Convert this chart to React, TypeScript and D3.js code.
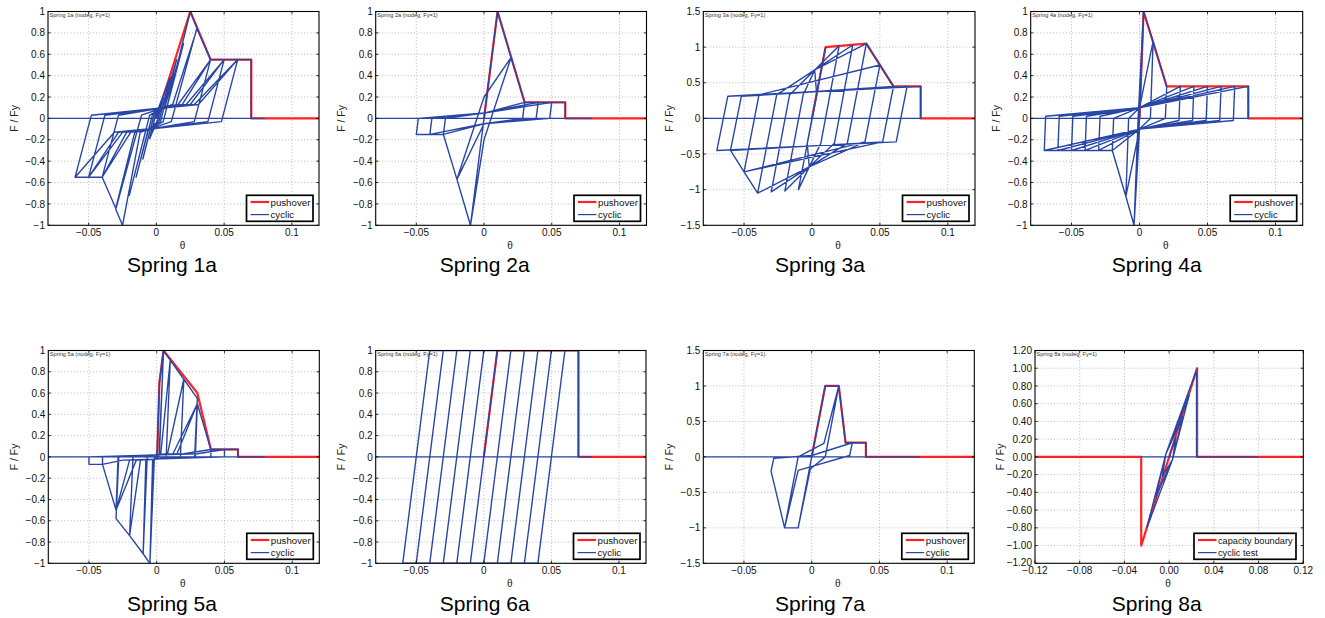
import React from "react";
import * as d3 from "d3";

type Pt = [number, number];

// ---------------- data ----------------
const springNames = ["1a", "2a", "3a", "4a", "5a", "6a", "7a", "8a"];
const legendStd = ["pushover", "cyclic"];
const legend8 = ["capacity boundary", "cyclic test"];

const xTicksStd = [-0.05, 0, 0.05, 0.1];
const yTicksUnit = [-1, -0.8, -0.6, -0.4, -0.2, 0, 0.2, 0.4, 0.6, 0.8, 1];
const yTicks15 = [-1.5, -1, -0.5, 0, 0.5, 1, 1.5];
const xTicks8 = [-0.12, -0.08, -0.04, 0, 0.04, 0.08, 0.12];
const yTicks8 = [-1.2, -1, -0.8, -0.6, -0.4, -0.2, 0, 0.2, 0.4, 0.6, 0.8, 1, 1.2];

const push1a: Pt[] = [[0, 0], [0.025, 1], [0.04, 0.55], [0.07, 0.55], [0.07, 0], [0.12, 0]];
const cyc1a: Pt[] = [
  [0, 0],
  [0.005, 0.19], [0.001, -0.01], [-0.005, -0.19], [-0.001, 0.01],
  [0.01, 0.38], [0.002, -0.02], [-0.004, -0.08], [-0.01, -0.38], [-0.002, 0.02], [0.004, 0.08],
  [0.015, 0.55], [0.003, -0.03], [-0.006, -0.1], [-0.015, -0.55], [-0.003, 0.03], [0.006, 0.1],
  [0.02, 0.7], [0.005, -0.03], [-0.008, -0.12], [-0.02, -0.72], [-0.005, 0.03], [0.008, 0.12],
  [0.025, 1.0], [0.03, 0.85], [0.011, -0.03], [-0.012, -0.13], [-0.025, -1.0], [-0.03, -0.85], [-0.011, 0.03], [0.012, 0.13],
  [0.03, 0.84], [0.04, 0.55], [0.028, -0.03], [-0.016, -0.13], [-0.03, -0.84], [-0.04, -0.55], [-0.028, 0.03], [0.016, 0.13],
  [0.04, 0.55], [0.028, -0.03], [-0.019, -0.13], [-0.04, -0.55], [-0.028, 0.03], [0.019, 0.13],
  [0.04, 0.55], [0.05, 0.55], [0.038, -0.03], [-0.022, -0.13], [-0.04, -0.55], [-0.05, -0.55], [-0.038, 0.03], [0.022, 0.13],
  [0.05, 0.55], [0.038, -0.03], [-0.025, -0.13], [-0.05, -0.55], [-0.038, 0.03], [0.025, 0.13],
  [0.05, 0.55], [0.06, 0.55], [0.048, -0.03], [-0.028, -0.13], [-0.05, -0.55], [-0.06, -0.55], [-0.048, 0.03], [0.028, 0.13],
  [0.06, 0.55], [0.048, -0.03], [-0.031, -0.13], [-0.06, -0.55], [-0.048, 0.03], [0.031, 0.13],
  [0.06, 0.55], [0.07, 0.55], [0.07, 0], [-0.08, 0], [0.08, 0],
];

const push2a: Pt[] = [[0, 0], [0.01, 1.0], [0.03, 0.15], [0.06, 0.15], [0.06, 0], [0.12, 0]];
const cyc2a: Pt[] = [
  [0, 0], [0.005, 0.5], [0, 0], [-0.005, -0.5], [0, 0],
  [0.01, 1.0], [0, 0], [-0.01, -1.0], [0, 0],
  [0.01, 1.0], [0.02, 0.57], [0, -0.2], [-0.01, -1.0], [-0.02, -0.57], [0, 0.2],
  [0.02, 0.57], [0.03, 0.15], [0.0285, 0], [0, -0.05], [-0.02, -0.57], [-0.03, -0.15], [-0.0285, 0], [0, 0.05],
  [0.03, 0.15], [0.04, 0.15], [0.0385, 0], [0, -0.05], [-0.03, -0.15], [-0.04, -0.15], [-0.0385, 0], [0, 0.05],
  [0.04, 0.15], [0.05, 0.15], [0.0485, 0], [0, -0.05], [-0.04, -0.15], [-0.05, -0.15], [-0.0485, 0], [0, 0.05],
  [0.05, 0.15], [0.06, 0.15], [0.06, 0], [-0.08, 0], [0.08, 0],
];

const push3a: Pt[] = [[0, 0], [0.01, 1.0], [0.04, 1.05], [0.06, 0.45], [0.08, 0.45], [0.08, 0], [0.12, 0]];
const cyc3a: Pt[] = [
  [0, 0],
  [0.01, 1.0], [-0.0035, -0.35], [-0.002, -0.68], [-0.01, -1.0], [0.0035, 0.33], [0.002, 0.68],
  [0.02, 1.02], [0.0065, -0.35], [-0.002, -0.68], [-0.02, -1.02], [-0.0065, 0.33], [0.002, 0.68],
  [0.03, 1.03], [0.0165, -0.35], [-0.002, -0.68], [-0.03, -1.03], [-0.0165, 0.33], [0.002, 0.68],
  [0.04, 1.05], [0.026, -0.35], [-0.002, -0.68], [-0.04, -1.05], [-0.026, 0.33], [0.002, 0.68],
  [0.04, 1.05], [0.05, 0.75], [0.039, -0.33], [-0.002, -0.68], [-0.04, -1.05], [-0.05, -0.75], [-0.039, 0.33],
  [0.05, 0.75], [0.039, -0.33], [-0.05, -0.75], [-0.039, 0.33],
  [0.05, 0.75], [0.06, 0.45], [0.052, -0.33], [-0.05, -0.75], [-0.06, -0.45], [-0.052, 0.31],
  [0.06, 0.45], [0.052, -0.33], [-0.06, -0.45], [-0.052, 0.31],
  [0.07, 0.45], [0.062, -0.33], [-0.07, -0.45], [-0.062, 0.31],
  [0.07, 0.45], [0.062, -0.33], [-0.07, -0.45], [-0.062, 0.31],
  [0.08, 0.45], [0.08, 0], [-0.08, 0], [0.08, 0],
];

const push4a: Pt[] = [[0, 0], [0.003, 1.0], [0.02, 0.3], [0.08, 0.3], [0.08, 0], [0.12, 0]];
const cyc4a: Pt[] = [
  [0, 0],
  [0.003, 1.0], [0, 0], [-0.004, -1.0], [-0.001, 0],
  [0.003, 1.0], [0.01, 0.72], [0.008, 0], [0, -0.1], [-0.004, -1.0], [-0.01, -0.73], [-0.008, 0], [0, 0.1],
  [0.01, 0.72], [0.02, 0.3], [0.019, 0], [0, -0.1], [-0.01, -0.73], [-0.02, -0.3], [-0.019, 0], [0, 0.1],
  [0.03, 0.3], [0.029, -0.02], [0, -0.1], [-0.02, -0.3], [-0.03, -0.3], [-0.029, 0.02], [0, 0.1],
  [0.03, 0.3], [0.029, -0.02], [0, -0.1], [-0.03, -0.3], [-0.029, 0.02], [0, 0.1],
  [0.04, 0.3], [0.039, -0.02], [0, -0.1], [-0.03, -0.3], [-0.04, -0.3], [-0.039, 0.02], [0, 0.1],
  [0.04, 0.3], [0.039, -0.02], [0, -0.1], [-0.04, -0.3], [-0.039, 0.02], [0, 0.1],
  [0.05, 0.3], [0.049, -0.02], [0, -0.1], [-0.04, -0.3], [-0.05, -0.3], [-0.049, 0.02], [0, 0.1],
  [0.05, 0.3], [0.049, -0.02], [0, -0.1], [-0.05, -0.3], [-0.049, 0.02], [0, 0.1],
  [0.06, 0.3], [0.059, -0.02], [0, -0.1], [-0.05, -0.3], [-0.06, -0.3], [-0.059, 0.02], [0, 0.1],
  [0.06, 0.3], [0.059, -0.02], [0, -0.1], [-0.06, -0.3], [-0.059, 0.02], [0, 0.1],
  [0.07, 0.3], [0.069, -0.02], [0, -0.1], [-0.06, -0.3], [-0.07, -0.3], [-0.069, 0.02], [0, 0.1],
  [0.07, 0.3], [0.069, -0.02], [0, -0.1], [-0.07, -0.3], [-0.069, 0.02], [0, 0.1],
  [0.08, 0.3], [0.08, 0], [-0.08, 0], [0.08, 0],
];

const push5a: Pt[] = [[0, 0], [0.0005, 0.08], [0.002, 0.7], [0.005, 1.0], [0.03, 0.6], [0.04, 0.07], [0.06, 0.07], [0.06, 0], [0.12, 0]];
const cyc5a: Pt[] = [
  [0, 0],
  [0.0005, 0.08], [0.002, 0.7], [0.005, 1.0], [0.0017, 0], [-0.002, -0.02], [-0.005, -1.0], [-0.0017, 0], [0.002, 0.02],
  [0.005, 1.0], [0.01, 0.91], [0.007, 0], [-0.003, -0.03], [-0.005, -1.0], [-0.01, -0.91], [-0.007, 0], [0.003, 0.03],
  [0.01, 0.91], [0.02, 0.73], [0.0175, 0], [-0.008, -0.03], [-0.01, -0.91], [-0.02, -0.74], [-0.0175, 0], [0.008, 0.03],
  [0.02, 0.73], [0.03, 0.55], [0.028, 0], [-0.012, -0.03], [-0.02, -0.74], [-0.03, -0.58], [-0.028, 0], [0.012, 0.03],
  [0.03, 0.5], [0.0285, 0], [-0.015, -0.03], [-0.03, -0.5], [-0.0285, 0], [0.015, 0.03],
  [0.03, 0.5], [0.04, 0.07], [0.04, 0], [-0.02, -0.03], [-0.03, -0.5], [-0.04, -0.07], [-0.04, 0], [0.02, 0.03],
  [0.04, 0.07], [0.05, 0.07], [0.05, 0], [-0.025, -0.03], [-0.04, -0.07], [-0.05, -0.07], [-0.05, 0], [0.03, 0.03],
  [0.05, 0.07], [0.06, 0.07], [0.06, 0], [-0.08, 0], [0.08, 0],
];

const push6a: Pt[] = [[0, 0], [0.01, 1.0], [0.07, 1.0], [0.07, 0], [0.12, 0]];
const cyc6a: Pt[] = [
  [0, 0], [0.01, 1], [-0.01, -1],
  [0.01, 1], [0.02, 1], [0, -1], [-0.02, -1], [0, 1],
  [0.03, 1], [0.01, -1], [-0.03, -1], [-0.01, 1],
  [0.04, 1], [0.02, -1], [-0.04, -1], [-0.02, 1],
  [0.05, 1], [0.03, -1], [-0.05, -1], [-0.03, 1],
  [0.06, 1], [0.04, -1], [-0.06, -1], [-0.04, 1],
  [0.07, 1], [0.07, 0], [-0.08, 0], [0.08, 0],
];

const push7a: Pt[] = [[0, 0], [0.01, 1], [0.02, 1], [0.025, 0.2], [0.04, 0.2], [0.04, 0], [0.12, 0]];
const cyc7a: Pt[] = [
  [0, 0], [0.005, 0.5], [0, 0], [-0.005, -0.5], [0, 0],
  [0.01, 1], [0, 0], [-0.01, -1], [0, 0],
  [0.01, 1], [0.02, 1], [0.01, 0], [-0.001, -0.17], [-0.01, -1], [-0.02, -1], [-0.01, 0], [0.009, 0.19],
  [0.02, 1], [0.025, 0.2], [0.03, 0.2], [0.028, 0.02], [-0.01, -0.19], [-0.02, -1], [-0.03, -0.2], [-0.028, -0.02], [0, 0.02],
  [0.03, 0.2], [0.04, 0.2], [0.04, 0], [-0.08, 0], [0.08, 0],
];

const push8a: Pt[] = [[-0.12, 0], [-0.025, 0], [-0.025, -1], [0.025, 1], [0.025, 0], [0.12, 0]];
const cyc8a: Pt[] = [
  [0, 0], [0.006, 0.22], [0.003, -0.03], [-0.006, -0.22], [-0.003, 0.03],
  [0.012, 0.45], [0.003, -0.03], [-0.012, -0.45], [-0.003, 0.03],
  [0.018, 0.7], [0.003, -0.03], [-0.02, -0.8], [-0.003, 0.03],
  [0.0245, 0.98], [0.0245, 0], [-0.025, 0], [0.08, 0],
];

const pushovers = [push1a, push2a, push3a, push4a, push5a, push6a, push7a, push8a];
const cyclics = [cyc1a, cyc2a, cyc3a, cyc4a, cyc5a, cyc6a, cyc7a, cyc8a];

// ---------------- layout ----------------
const FONT = "'Liberation Sans', Arial, Helvetica, sans-serif";
const RED = "#ff2222";
const BLUE = "#2846a6";

const layouts = [
  { l: 48, r: 319, t: 11.5, b: 225.3, cap: 172, capY: 272 },
  { l: 375.7, r: 646.5, t: 11.5, b: 225.3, cap: 484.7, capY: 272 },
  { l: 703.3, r: 975, t: 11.5, b: 225.3, cap: 820, capY: 272 },
  { l: 1030.7, r: 1302.7, t: 11.5, b: 225.3, cap: 1156.7, capY: 272 },
  { l: 48.3, r: 319.3, t: 350.5, b: 563.3, cap: 172, capY: 611 },
  { l: 375.7, r: 646, t: 350.5, b: 563.3, cap: 484.7, capY: 611 },
  { l: 703.3, r: 974.3, t: 350.5, b: 563.3, cap: 820, capY: 611 },
  { l: 1035, r: 1303.3, t: 350.5, b: 563.3, cap: 1156.7, capY: 611 },
];

function fmtPlain(v: number) {
  const s = String(+Math.abs(v).toFixed(4));
  return (v < 0 ? "\u2212" : "") + s;
}
function fmt2(v: number) {
  return (v < 0 ? "\u2212" : "") + Math.abs(v).toFixed(2);
}

function Panel({ i }: { i: number }) {
  const L = layouts[i];
  const is8 = i === 7;
  const tall = i === 2 || i === 6;
  const xDomain = is8 ? [-0.12, 0.12] : [-0.08, 0.12];
  const yDomain = is8 ? [-1.2, 1.2] : tall ? [-1.5, 1.5] : [-1, 1];
  const xTicks = is8 ? xTicks8 : xTicksStd;
  const yTicks = is8 ? yTicks8 : tall ? yTicks15 : yTicksUnit;
  const fmt = is8 ? fmt2 : fmtPlain;
  const legend = is8 ? legend8 : legendStd;

  const x = d3.scaleLinear().domain(xDomain).range([L.l, L.r]);
  const y = d3.scaleLinear().domain(yDomain).range([L.b, L.t]);
  const line = d3.line<Pt>().x((d) => x(d[0])).y((d) => y(d[1]));
  const clipId = `clip-${i}`;
  const tickLen = 2.7;

  const legW = is8 ? 102 : 66.5;
  const legH = 26;
  const bx = L.r - (is8 ? 7.3 : 6) - legW;
  const by = L.b - 4 - legH;

  const eps = 1e-9;
  const gridX = xTicks.filter((v) => v > xDomain[0] + eps && v < xDomain[1] - eps);
  const gridY = yTicks.filter((v) => v > yDomain[0] + eps && v < yDomain[1] - eps);

  return (
    <g>
      <defs>
        <clipPath id={clipId}>
          <rect x={L.l} y={L.t} width={L.r - L.l} height={L.b - L.t} />
        </clipPath>
      </defs>
      <rect x={L.l} y={L.t} width={L.r - L.l} height={L.b - L.t} fill="#fff" />
      {gridX.map((v) => (
        <line key={"gx" + v} x1={x(v)} x2={x(v)} y1={L.t} y2={L.b} stroke="#9a9a9a" strokeWidth={0.7} strokeDasharray="1 2.2" />
      ))}
      {gridY.map((v) => (
        <line key={"gy" + v} x1={L.l} x2={L.r} y1={y(v)} y2={y(v)} stroke="#9a9a9a" strokeWidth={0.7} strokeDasharray="1 2.2" />
      ))}
      <g clipPath={`url(#${clipId})`}>
        <path d={line(pushovers[i]) || ""} fill="none" stroke={RED} strokeWidth={2.2} strokeLinejoin="round" />
        <path d={line(cyclics[i]) || ""} fill="none" stroke={BLUE} strokeWidth={1.4} strokeLinejoin="round" />
      </g>
      {xTicks.map((v) => (
        <g key={"xt" + v}>
          <line x1={x(v)} x2={x(v)} y1={L.b} y2={L.b - tickLen} stroke="#000" strokeWidth={0.8} />
          <line x1={x(v)} x2={x(v)} y1={L.t} y2={L.t + tickLen} stroke="#000" strokeWidth={0.8} />
          <text x={x(v)} y={L.b + 11} textAnchor="middle" fontSize={10} fontFamily={FONT} fill="#111">
            {fmt(v)}
          </text>
        </g>
      ))}
      {yTicks.map((v) => (
        <g key={"yt" + v}>
          <line x1={L.l} x2={L.l + tickLen} y1={y(v)} y2={y(v)} stroke="#000" strokeWidth={0.8} />
          <line x1={L.r} x2={L.r - tickLen} y1={y(v)} y2={y(v)} stroke="#000" strokeWidth={0.8} />
          <text x={L.l - 3} y={y(v) + (is8 && v === -1.2 ? 2.6 : 3.6)} textAnchor="end" fontSize={10} fontFamily={FONT} fill="#111">
            {fmt(v)}
          </text>
        </g>
      ))}
      <rect x={L.l} y={L.t} width={L.r - L.l} height={L.b - L.t} fill="none" stroke="#000" strokeWidth={1.1} />
      <text x={L.l + 1.5} y={L.t + 5.8} fontSize={5.6} fontFamily={FONT} fill="#333">
        {`Spring ${springNames[i]} (nodeg, Fy=1)`}
      </text>
      <text x={(L.l + L.r) / 2 - 1} y={L.b + 24} textAnchor="middle" fontSize={10} fontFamily={FONT} fill="#222">
        θ
      </text>
      <text
        transform={`translate(${L.l - (is8 ? 35 : 34) + 3.5},${(L.t + L.b) / 2}) rotate(-90)`}
        textAnchor="middle"
        fontSize={10.5}
        fontFamily={FONT}
        fill="#222"
      >
        F / Fy
      </text>
      <rect x={bx} y={by} width={legW} height={legH} fill="#fff" stroke="#000" strokeWidth={1.7} />
      <line x1={bx + 4} x2={bx + 22.5} y1={by + 6.7} y2={by + 6.7} stroke={RED} strokeWidth={2.2} />
      <line x1={bx + 4} x2={bx + 22.5} y1={by + 19.3} y2={by + 19.3} stroke={BLUE} strokeWidth={1.2} />
      <text x={bx + 24} y={by + 10.2} fontSize={is8 ? 9.2 : 9.7} fontFamily={FONT} fill="#111">
        {legend[0]}
      </text>
      <text x={bx + 24} y={by + 22.8} fontSize={is8 ? 9.2 : 9.7} fontFamily={FONT} fill="#111">
        {legend[1]}
      </text>
      <text x={L.cap} y={L.capY} textAnchor="middle" fontSize={21} fontFamily={FONT} fill="#000">
        {`Spring ${springNames[i]}`}
      </text>
    </g>
  );
}

export default function App() {
  return (
    <svg
      width={1325}
      height={618}
      viewBox="0 0 1325 618"
      style={{ position: "absolute", left: 0, top: 0, background: "#fff" }}
    >
      <rect x={0} y={0} width={1325} height={618} fill="#fff" />
      {springNames.map((_, i) => (
        <Panel key={i} i={i} />
      ))}
    </svg>
  );
}
